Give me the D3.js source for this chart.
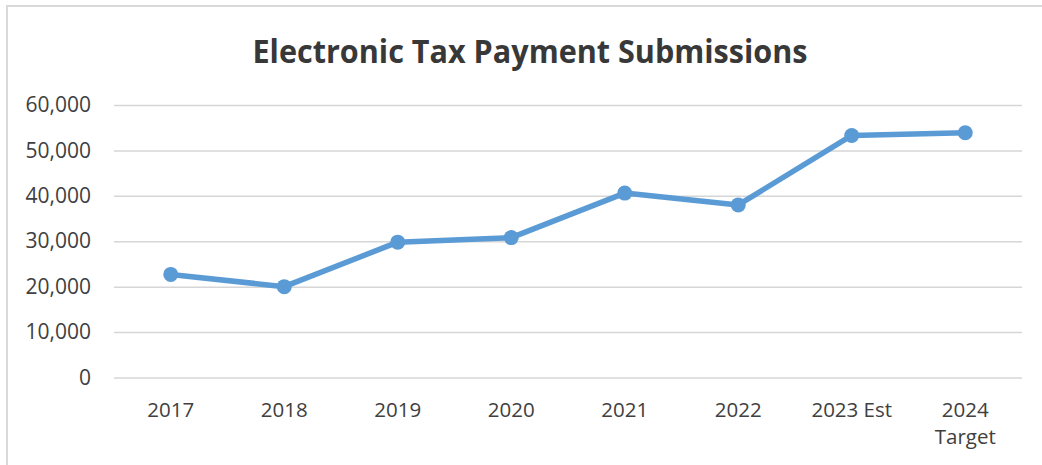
<!DOCTYPE html>
<html>
  <head>
    <meta charset="UTF-8">
    <title>Electronic Tax Payment Submissions</title>
    <script src="https://d3js.org/d3.v7.min.js"></script>
    <style>
      html, body { margin: 0; padding: 0; background: white; }
      svg text { font-family: "Open Sans", "Liberation Sans", sans-serif; fill: #404040; }
      .title { font-weight: 700; font-size: 32px; fill: #383838; }
      .y-axis text { font-size: 21px; }
      .x-axis text { font-size: 20.5px; }
    </style>
  </head>
  <body>
    <div class="chart"></div>
    <script>
const years = ['2017', '2018', '2019', '2020', '2021', '2022', '2023 Est', '2024 Target'];
const xLabels = ['2017', '2018', '2019', '2020', '2021', '2022', '2023 Est', '2024\nTarget'];
const submissions = [22700, 20000, 29800, 30800, 40600, 38000, 53300, 53900];
const yTicks = [0, 10000, 20000, 30000, 40000, 50000, 60000];

const W = 1042, H = 465;
const plot = { left: 114, right: 1022, top: 105, bottom: 377.5 };

const svg = d3.select('.chart')
  .append('svg')
  .attr('width', W)
  .attr('height', H);

// chart frame (only top + left edges show in the crop)
svg.append('rect')
  .attr('x', 7).attr('y', 6)
  .attr('width', 1200).attr('height', 800)
  .attr('fill', 'none')
  .attr('stroke', '#d9d9d9')
  .attr('stroke-width', 2);

svg.append('text')
  .attr('class', 'title')
  .attr('x', 530).attr('y', 63)
  .attr('text-anchor', 'middle')
  .attr('textLength', 555)
  .attr('lengthAdjust', 'spacingAndGlyphs')
  .text('Electronic Tax Payment Submissions');

const x = d3.scaleBand()
  .domain(years)
  .range([plot.left, plot.right]);

const y = d3.scaleLinear()
  .domain([0, 60000])
  .range([plot.bottom, plot.top]);

// gridlines
svg.append('g')
  .attr('transform', `translate(${plot.left}, 0)`)
  .call(d3.axisLeft(y).tickValues(yTicks).tickSize(-(plot.right - plot.left)).tickFormat(''))
  .call(g => g.select('.domain').remove())
  .call(g => g.selectAll('line').attr('stroke', '#d6d6d6').attr('stroke-width', 1.5));

// y labels
svg.append('g')
  .attr('class', 'y-axis')
  .attr('transform', `translate(${plot.left}, 0)`)
  .call(d3.axisLeft(y).tickValues(yTicks).tickSize(0).tickPadding(23).tickFormat(d3.format(',')))
  .call(g => g.select('.domain').remove())
  .call(g => g.selectAll('text').attr('font-family', null).attr('font-size', null).attr('fill', '#404040'));

// x labels
const xAxis = svg.append('g')
  .attr('class', 'x-axis')
  .attr('transform', `translate(0, ${plot.bottom})`)
  .call(d3.axisBottom(x).tickSize(0).tickFormat((d, i) => xLabels[i]))
  .call(g => g.select('.domain').remove());

xAxis.selectAll('text')
  .attr('font-family', null).attr('font-size', null).attr('fill', '#404040')
  .attr('y', 0).attr('dy', null)
  .each(function(d, i) {
    const t = d3.select(this);
    const lines = xLabels[i].split('\n');
    t.text(null);
    lines.forEach((line, k) => {
      t.append('tspan')
        .attr('x', 0)
        .attr('y', 39 + k * 27)
        .text(line);
    });
  });

const line = d3.line()
  .x((d, i) => x(years[i]) + x.bandwidth() / 2)
  .y(d => y(d));

svg.append('path')
  .datum(submissions)
  .attr('fill', 'none')
  .attr('stroke', '#5b9bd5')
  .attr('stroke-width', 5.5)
  .attr('stroke-linejoin', 'round')
  .attr('d', line);

svg.selectAll('.marker')
  .data(submissions)
  .enter()
  .append('circle')
  .attr('class', 'marker')
  .attr('cx', (d, i) => x(years[i]) + x.bandwidth() / 2)
  .attr('cy', d => y(d))
  .attr('r', 7.5)
  .attr('fill', '#5b9bd5');
    </script>
  </body>
</html>
